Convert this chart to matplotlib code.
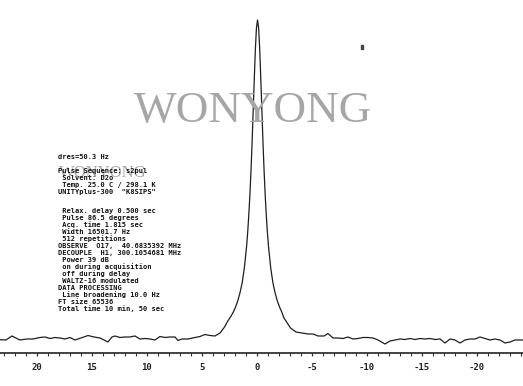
import matplotlib
matplotlib.use("Agg")
import matplotlib.pyplot as plt
from matplotlib.patches import Rectangle

# spectrum (ppm, intensity in arbitrary units)
ppm = [23.36, 22.82, 22.27, 21.55, 20.91, 20.36, 19.73, 19.27, 18.82, 18.36,
       17.91, 17.45, 17.0, 16.55, 16.0, 15.36, 14.82, 14.27, 13.91, 13.55,
       13.18, 12.91, 12.45, 12.0, 11.55, 11.09, 10.64, 10.18, 9.73, 9.27,
       8.82, 8.36, 7.91, 7.45, 7.18, 6.82, 6.27, 5.64, 5.18, 4.73,
       4.27, 3.82, 3.36, 2.95, 2.65, 2.35, 2.15, 1.95, 1.75, 1.55,
       1.35, 1.15, 0.95, 0.85, 0.75, 0.65, 0.55, 0.45, 0.35, 0.25,
       0.15, 0.05, -0.05, -0.15, -0.25, -0.35, -0.45, -0.55, -0.65, -0.75,
       -0.85, -0.95, -1.05, -1.25, -1.45, -1.65, -1.85, -2.05, -2.25, -2.45,
       -2.75, -3.05, -3.55, -4.09, -4.64, -5.09, -5.55, -6.09, -6.45, -6.91,
       -7.36, -7.82, -8.27, -8.73, -9.18, -9.64, -10.09, -10.55, -11.0, -11.64,
       -12.09, -12.55, -13.0, -13.45, -13.91, -14.36, -14.82, -15.27, -15.73, -16.18,
       -16.64, -17.09, -17.55, -18.0, -18.45, -18.91, -19.36, -19.82, -20.27, -20.73,
       -21.18, -21.64, -22.09, -22.55, -23.0, -23.45, -24.18]
intensity = [0.3, 0, 4, 0, 1, 1, 2.5, 3, 1.5, 2.5,
             2, 1, 2.5, 0, 2, 4.5, 3, 2, 0, -2,
             3, 4, 2.5, 3, 3, 4, 1, 1.5, 1, 0,
             3.5, 2.5, 3, 3, -0.5, 1, 1, 2.5, 3.5, 5.5,
             4.5, 4, 7, 13, 19, 24, 28, 33, 39, 47,
             57, 72, 93, 107, 124, 144, 168, 196, 228, 260,
             290, 312, 320, 312, 290, 260, 228, 196, 168, 144,
             124, 107, 93, 72, 57, 47, 39, 33, 28, 22,
             17, 12, 8, 7, 6, 6, 4, 4, 6.5, 2,
             2, 1.5, 3, 1, 1.5, 2.5, 2.5, 2, 0, -4,
             -1, 0, 1, 0.5, 1.5, 0.5, 1.5, 1, 1.5, 0.5,
             1, -3, 1, 0, -3, 0, 1, 1, 3, 1.5,
             0, 1, 0, -3, -2, 0, 0]

tick_values = [20, 15, 10, 5, 0, -5, -10, -15, -20]
tick_labels = ['20', '15', '10', '5', '0', '-5', '-10', '-15', '-20']

params_top = ['dres=50.3 Hz',
              '',
              'Pulse Sequence: s2pul',
              ' Solvent: D2o',
              ' Temp. 25.0 C / 298.1 K',
              'UNITYplus-300  "K8SIPS"']
params_bottom = [' Relax. delay 0.500 sec',
                 ' Pulse 86.5 degrees',
                 ' Acq. time 1.815 sec',
                 ' Width 16501.7 Hz',
                 ' 512 repetitions',
                 'OBSERVE  O17,  40.6835392 MHz',
                 'DECOUPLE  H1, 300.1054681 MHz',
                 ' Power 39 dB',
                 ' on during acquisition',
                 ' off during delay',
                 ' WALTZ-16 modulated',
                 'DATA PROCESSING',
                 ' Line broadening 10.0 Hz',
                 'FT size 65536',
                 'Total time 10 min, 50 sec']

W, H = 523, 386
fig = plt.figure(figsize=(W / 100, H / 100), dpi=100)
fig.patch.set_facecolor('white')

def fx(px):
    return px / W

def fy(py):
    return 1 - py / H

ax = fig.add_axes([0, fy(353), 1, 353 / H])
ax.set_facecolor('none')
ax.plot(ppm, intensity, color='#1e1e1e', lw=0.9, zorder=3)
ax.set_xlim(23.36, -24.18)
ax.set_ylim(-13, 340)

for s in ['top', 'left', 'right']:
    ax.spines[s].set_visible(False)
ax.spines['bottom'].set_linewidth(1.2)
ax.spines['bottom'].set_color('#222222')
ax.set_yticks([])
ax.set_xticks(tick_values)
ax.set_xticklabels(tick_labels, family='DejaVu Sans Mono', fontweight='bold',
                   fontsize=6.5, color='#222222')
ax.set_xticks(range(-24, 24), minor=True)
ax.tick_params(axis='x', which='major', direction='out', length=2.5, width=0.9,
               pad=5, color='#333333')
ax.tick_params(axis='x', which='minor', direction='out', length=2, width=0.8,
               color='#333333')

# watermarks (they sit under the parameter text, as in the scan)
fig.text(fx(253), fy(111), 'WONYONG', family='Liberation Serif', fontsize=32.5,
         color='#a6a6a6', ha='center', va='center', zorder=1)
fig.text(fx(103), fy(173), 'WONYONG', family='Liberation Serif', fontsize=12,
         color='#a6a6a6', ha='center', va='center', zorder=1)

# acquisition parameters
for i, line in enumerate(params_top):
    fig.text(fx(58), fy(157 + i * 7), line, family='DejaVu Sans Mono',
             fontweight='bold', fontsize=5, color='#111111', va='center', zorder=4)
for i, line in enumerate(params_bottom):
    fig.text(fx(58), fy(211 + i * 7), line, family='DejaVu Sans Mono',
             fontweight='bold', fontsize=5, color='#111111', va='center', zorder=4)

fig.patches.append(Rectangle((fx(361), fy(49)), 2 / W, 4 / H,
                             transform=fig.transFigure, color='#444444'))

fig.savefig('out.png', dpi=100, facecolor='white')
